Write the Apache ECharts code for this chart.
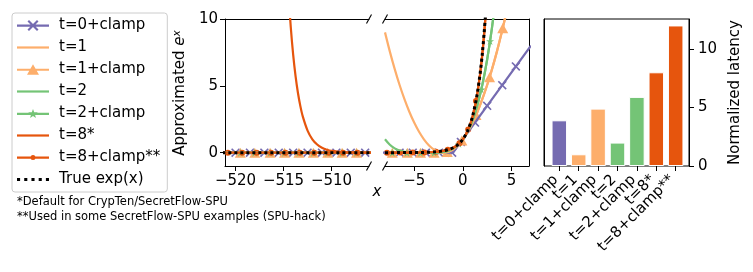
<!DOCTYPE html>
<html><head><meta charset="utf-8">
<script src="https://cdn.jsdelivr.net/npm/echarts@6/dist/echarts.min.js"></script>
<style>html,body{margin:0;padding:0;background:#fff}#c{width:753px;height:272px}</style>
</head><body><div id="c"></div>
<script>
// ---------------- data ----------------
const seriesNames = ['t=0+clamp', 't=1', 't=1+clamp', 't=2', 't=2+clamp', 't=8*', 't=8+clamp**', 'True exp(x)'];
const barCategories = ['t=0+clamp', 't=1', 't=1+clamp', 't=2', 't=2+clamp', 't=8*', 't=8+clamp**'];
const barLatency = [3.9, 1.0, 4.9, 2.0, 5.9, 8.0, 12.0];

const leftTicks = [-520, -515, -510];
const midTicks = [-5, 0, 5];
const yTicks = [0, 5, 10];
const latencyTicks = [0, 5, 10];

// left panel (x around -512)
const leftFlatX = [-522, -505];
const leftFlatY = [0, 0];
const leftT8X = [-515.5, -515, -514.75, -514.5, -514.25, -514, -513.75, -513.5, -513.25, -513, -512.5, -512, -511.5, -511, -510.5, -510, -509, -508, -507, -506, -505];
const leftT8Y = [32.3, 19.6, 15.4, 12.05, 9.4, 7.33, 5.72, 4.46, 3.48, 2.71, 1.65, 1.0, 0.61, 0.37, 0.22, 0.13, 0.049, 0.018, 0.0067, 0.0025, 0.0009];
const leftMarkXT0 = [-520.0, -518.5, -517.0, -515.5, -514.0, -512.5, -511.0, -509.5, -508.0, -506.5];
const leftMarkXT1 = [-519.5, -518.0, -516.4, -514.9, -513.4, -511.9, -510.4, -508.9, -507.4];
const leftMarkXT2 = [-519.5, -518.0, -516.4, -514.9, -513.4, -511.9, -510.4, -508.9, -507.4];
const leftMarkXT8 = [-520.8, -519.3, -517.8, -516.3, -514.8, -513.3, -511.8, -510.3, -508.8, -507.3];

// middle panel (x around 0)
const midX = [-8, -7.5, -7, -6.5, -6, -5.5, -5, -4.5, -4, -3.5, -3, -2.5, -2, -1.5, -1, -0.5, 0, 0.5, 1, 1.5, 2, 2.5, 3, 3.5, 4, 4.5];
const midT1Y = [9, 7.56, 6.25, 5.06, 4, 3.06, 2.25, 1.56, 1, 0.56, 0.25, 0.06, 0, 0.06, 0.25, 0.56, 1, 1.56, 2.25, 3.06, 4, 5.06, 6.25, 7.56, 9, 10.56];
const midT1cY = [0, 0, 0, 0, 0, 0, 0, 0, 0, 0, 0, 0, 0, 0.06, 0.25, 0.56, 1, 1.56, 2.25, 3.06, 4, 5.06, 6.25, 7.56, 9, 10.56];
const midT2Y = [1, 0.586, 0.316, 0.153, 0.0625, 0.0198, 0.0039, 0.0002, 0, 0.0002, 0.0039, 0.0198, 0.0625, 0.153, 0.316, 0.586, 1, 1.6, 2.44, 3.57, 5.06, 6.97, 9.38, 12.36, 16, 20.4];
const midT2cY = [0, 0, 0, 0, 0, 0, 0, 0, 0, 0.0002, 0.0039, 0.0198, 0.0625, 0.153, 0.316, 0.586, 1, 1.6, 2.44, 3.57, 5.06, 6.97, 9.38, 12.36, 16, 20.4];
const midT8Y = [0.0003, 0.0005, 0.0008, 0.0014, 0.0023, 0.004, 0.0065, 0.011, 0.018, 0.03, 0.049, 0.081, 0.134, 0.222, 0.367, 0.606, 1, 1.65, 2.71, 4.46, 7.33, 12.05, 19.7, 32.1, 52, 84];
const midExpY = [0.0003, 0.0006, 0.0009, 0.0015, 0.0025, 0.0041, 0.0067, 0.011, 0.018, 0.03, 0.05, 0.082, 0.135, 0.223, 0.368, 0.607, 1, 1.65, 2.72, 4.48, 7.39, 12.18, 20.1, 33.1, 54.6, 90];
const midT0X = [-9, -1, 7];
const midT0Y = [0, 0, 8];
const midMarkT0X = [-6.5, -5.15, -3.8, -2.45, -1.1, -0.2, 1.25, 2.5, 4.05, 5.45];
const midMarkT0Y = [0, 0, 0, 0, 0, 0.8, 2.25, 3.5, 5.05, 6.45];
const midMarkT1X = [-7.25, -5.7, -4.35, -2.95, -1.6, -0.1, 1.35, 2.75, 4.1];
const midMarkT1Y = [0, 0, 0, 0, 0.04, 0.9, 2.82, 5.64, 9.3];
const midMarkT2X = [-7.25, -5.75, -4.35, -2.95, -1.55, -0.4, 1.9, 2.8];
const midMarkT2Y = [0, 0, 0, 0.005, 0.14, 0.66, 4.73, 8.35];
const midMarkT8X = [-7.8, -6.45, -5.15, -3.95, -2.75, -1.55, -0.35, 0.55, 1.35];
const midMarkT8Y = [0.0004, 0.0016, 0.0058, 0.019, 0.064, 0.212, 0.705, 1.73, 3.86];

// ---------------- style ----------------
const C = { purple: '#756bb1', lorange: '#fdae6b', green: '#74c476', dorange: '#e6550d', black: '#000000' };
const barColors = [C.purple, C.lorange, C.lorange, C.green, C.green, C.dorange, C.dorange];
const FONT = 'DejaVu Sans';
const G = { top: 19, height: 147 };
const gL = { left: 225, width: 144 }, gM = { left: 385, width: 144 }, gB = { left: 544, width: 145 };
// inner band region of the bar panel (matplotlib-style side margins of 0.34 bar slots)
const gBi = { left: 549.6, width: 135.8 };

const symX = 'path://M0,1.3L1.3,0L5,3.7L8.7,0L10,1.3L6.3,5L10,8.7L8.7,10L5,6.3L1.3,10L0,8.7L3.7,5Z';
const symStar = 'path://M50,0L61,35L98,35L68,57L79,91L50,70L21,91L32,57L2,35L39,35Z';

const LINE = 'M0,6L32,6L32,8.2L0,8.2Z';
const iconX = 'path://' + LINE + 'M10.5,3L12,1.5L16,5.5L20,1.5L21.5,3L17.5,7L21.5,11L20,12.5L16,8.5L12,12.5L10.5,11L14.5,7Z';
const iconLine = 'path://' + LINE;
const iconTri = 'path://' + LINE + 'M16,1.5L22,12.2L10,12.2Z';
const iconStar = 'path://' + LINE + 'M16,2.2L17.2,5.4L20.7,5.5L18,7.7L18.9,11.1L16,9.1L13.1,11.1L14,7.7L11.3,5.5L14.8,5.4Z';
const iconDot = 'path://' + LINE + 'M13.5,7A2.5,2.5,0,1,1,18.5,7A2.5,2.5,0,1,1,13.5,7Z';
const iconDots = 'path://M0,5.5L3,5.5L3,8.5L0,8.5ZM7,5.5L10,5.5L10,8.5L7,8.5ZM14,5.5L17,5.5L17,8.5L14,8.5ZM21,5.5L24,5.5L24,8.5L21,8.5ZM28,5.5L31,5.5L31,8.5L28,8.5Z';

const legendIcons = [iconX, iconLine, iconTri, iconLine, iconStar, iconLine, iconDot, iconDots];
const legendColors = [C.purple, C.lorange, C.lorange, C.green, C.green, C.dorange, C.dorange, C.black];

const pairs = (xs, ys) => xs.map((x, i) => [x, ys[i]]);
const minus = v => String(v).replace('-', '\u2212');

function line(name, xs, ys, color, panel, extra) {
  return Object.assign({
    type: 'line', name, xAxisIndex: panel === 0 ? 0 : 2, yAxisIndex: panel === 0 ? 0 : 1,
    data: pairs(xs, ys), symbol: 'none', smooth: 0.3, clip: true, animation: false,
    lineStyle: { color, width: 2.2 }, itemStyle: { color }
  }, extra || {});
}
function marks(name, xs, ys, color, panel, symbol, size) {
  return {
    type: 'scatter', name, xAxisIndex: panel === 0 ? 0 : 2, yAxisIndex: panel === 0 ? 0 : 1,
    data: pairs(xs, ys), symbol, symbolSize: size, clip: true, animation: false,
    itemStyle: { color, borderWidth: 0, opacity: 1 }
  };
}
const zeros = n => new Array(n).fill(0);

const series = [
  // t=0+clamp
  line(seriesNames[0], leftFlatX, leftFlatY, C.purple, 0, { smooth: false }),
  marks(seriesNames[0], leftMarkXT0, zeros(leftMarkXT0.length), C.purple, 0, symX, 9),
  line(seriesNames[0], midT0X, midT0Y, C.purple, 1, { smooth: false }),
  marks(seriesNames[0], midMarkT0X, midMarkT0Y, C.purple, 1, symX, 9),
  // t=1
  line(seriesNames[1], midX, midT1Y, C.lorange, 1),
  // t=1+clamp
  line(seriesNames[2], leftFlatX, leftFlatY, C.lorange, 0, { smooth: false }),
  marks(seriesNames[2], leftMarkXT1, zeros(leftMarkXT1.length), C.lorange, 0, 'triangle', [11, 10]),
  line(seriesNames[2], midX, midT1cY, C.lorange, 1),
  marks(seriesNames[2], midMarkT1X, midMarkT1Y, C.lorange, 1, 'triangle', [11, 10]),
  // t=2
  line(seriesNames[3], midX, midT2Y, C.green, 1),
  // t=2+clamp
  line(seriesNames[4], leftFlatX, leftFlatY, C.green, 0, { smooth: false }),
  marks(seriesNames[4], leftMarkXT2, zeros(leftMarkXT2.length), C.green, 0, symStar, 8),
  line(seriesNames[4], midX, midT2cY, C.green, 1),
  marks(seriesNames[4], midMarkT2X, midMarkT2Y, C.green, 1, symStar, 8),
  // t=8*
  line(seriesNames[5], leftT8X, leftT8Y, C.dorange, 0),
  line(seriesNames[5], midX, midT8Y, C.dorange, 1),
  // t=8+clamp**
  line(seriesNames[6], leftFlatX, leftFlatY, C.dorange, 0, { smooth: false }),
  marks(seriesNames[6], leftMarkXT8, zeros(leftMarkXT8.length), C.dorange, 0, 'circle', 6),
  line(seriesNames[6], midX, midT8Y, C.dorange, 1),
  marks(seriesNames[6], midMarkT8X, midMarkT8Y, C.dorange, 1, 'circle', 6),
  // True exp(x)
  line(seriesNames[7], leftFlatX, leftFlatY, C.black, 0, { smooth: false, lineStyle: { color: C.black, width: 3, type: [3, 3], cap: 'butt' } }),
  line(seriesNames[7], midX, midExpY, C.black, 1, { lineStyle: { color: C.black, width: 3, type: [3, 3], cap: 'butt' } }),
  // latency bars (category band grid)
  {
    type: 'bar', xAxisIndex: 6, yAxisIndex: 5, barWidth: '80%', animation: false,
    data: barLatency.map((v, i) => ({ value: v, itemStyle: { color: barColors[i] } })),
    itemStyle: { borderColor: '#ffffff', borderWidth: 1 }
  }
];

const axLine = { show: true, onZero: false, lineStyle: { color: '#000', width: 1 } };
const tick = vals => ({ show: true, length: 5, inside: false, customValues: vals, lineStyle: { color: '#000', width: 1 } });
const lab = (vals, margin, fmt) => ({ show: true, customValues: vals, margin, fontSize: 15, color: '#000', fontFamily: FONT,
  formatter: fmt || minus, hideOverlap: false, showMinLabel: true, showMaxLabel: true });
const hidden = { show: false };

const xAxis = [
  { gridIndex: 0, type: 'value', min: -521.1, max: -506.1, position: 'bottom', axisLine: axLine, axisTick: tick(leftTicks), axisLabel: lab(leftTicks, 8), splitLine: hidden },
  { gridIndex: 0, type: 'value', min: -521.1, max: -506.1, position: 'top', axisLine: axLine, axisTick: hidden, axisLabel: hidden, splitLine: hidden },
  { gridIndex: 1, type: 'value', min: -8, max: 6.8, position: 'bottom', axisLine: axLine, axisTick: tick(midTicks), axisLabel: lab(midTicks, 8), splitLine: hidden },
  { gridIndex: 1, type: 'value', min: -8, max: 6.8, position: 'top', axisLine: axLine, axisTick: hidden, axisLabel: hidden, splitLine: hidden },
  // bar frame grid (box only)
  { gridIndex: 2, type: 'value', min: 0, max: 1, show: false },
  { gridIndex: 2, type: 'value', min: 0, max: 1, position: 'top', show: false },
  // bar band grid
  { gridIndex: 3, type: 'category', data: barCategories, position: 'bottom',
    axisLine: { show: false, onZero: false }, axisTick: { show: true, alignWithLabel: true, interval: 0, length: 5, lineStyle: { color: '#000' } },
    axisLabel: { show: true, interval: 0, rotate: 45, margin: 8, padding: [0, 5, 0, 0], fontSize: 15, color: '#000', fontFamily: FONT, hideOverlap: false },
    splitLine: hidden }
];
const yAxis = [
  { gridIndex: 0, type: 'value', min: -1, max: 10, position: 'left', axisLine: axLine, axisTick: tick(yTicks), axisLabel: lab(yTicks, 7), splitLine: hidden },
  { gridIndex: 1, type: 'value', min: -1, max: 10, position: 'left', axisLine: hidden, axisTick: hidden, axisLabel: hidden, splitLine: hidden },
  { gridIndex: 1, type: 'value', min: -1, max: 10, position: 'right', axisLine: axLine, axisTick: hidden, axisLabel: hidden, splitLine: hidden },
  { gridIndex: 2, type: 'value', min: 0, max: 12.55, position: 'right', axisLine: axLine,
    axisTick: tick(latencyTicks), axisLabel: lab(latencyTicks, 9, v => String(v)), splitLine: hidden },
  { gridIndex: 2, type: 'value', min: 0, max: 12.55, position: 'left', axisLine: axLine, axisTick: hidden, axisLabel: hidden, splitLine: hidden },
  { gridIndex: 3, type: 'value', min: 0, max: 12.55, show: false }
];

const grids = [gL, gM, gB, gBi].map((g, i) => ({
  left: g.left, width: g.width, top: G.top, height: G.height, containLabel: false,
  show: i === 2, borderColor: '#000', borderWidth: 1, backgroundColor: 'transparent'
}));

// decorations: axis-break marks and free texts
const brk = (x, y) => ({ type: 'line', shape: { x1: x - 2.5, y1: y + 4.5, x2: x + 2.5, y2: y - 4.5 }, style: { stroke: '#000', lineWidth: 1.1 }, z: 100 });
const yBottom = G.top + G.height;
const graphic = [
  brk(gL.left + gL.width, G.top), brk(gL.left + gL.width, yBottom),
  brk(gM.left, G.top), brk(gM.left, yBottom),
  { type: 'text', x: 377, y: 192, style: { text: 'x', font: 'italic 15px "DejaVu Sans"', fill: '#000', align: 'center', verticalAlign: 'middle' } },
  { type: 'text', x: 180.5, y: 93, rotation: Math.PI / 2,
    style: { text: '{a|Approximated }{e|e}{s|x}', align: 'center', verticalAlign: 'middle', fill: '#000',
      rich: { a: { fontSize: 15, fontFamily: FONT, fill: '#000' }, e: { fontSize: 15, fontFamily: FONT, fontStyle: 'italic', fill: '#000' },
              s: { fontSize: 10.5, fontFamily: FONT, fontStyle: 'italic', fill: '#000', verticalAlign: 'top', padding: [0, 0, 7, 0] } } } },
  { type: 'text', x: 735, y: 92.5, rotation: Math.PI / 2,
    style: { text: 'Normalized latency', font: '15px "DejaVu Sans"', fill: '#000', align: 'center', verticalAlign: 'middle' } },
  { type: 'text', x: 17, y: 202, style: { text: '*Default for CrypTen/SecretFlow-SPU', font: '11.5px "DejaVu Sans"', fill: '#000', align: 'left', verticalAlign: 'middle' } },
  { type: 'text', x: 17, y: 217, style: { text: '**Used in some SecretFlow-SPU examples (SPU-hack)', font: '11.5px "DejaVu Sans"', fill: '#000', align: 'left', verticalAlign: 'middle' } }
];

const option = {
  animation: false,
  textStyle: { fontFamily: FONT },
  grid: grids,
  xAxis, yAxis, series, graphic,
  legend: {
    show: true, orient: 'vertical', left: 12, top: 13,
    padding: [5, 7, 5, 5], itemWidth: 32, itemHeight: 14, itemGap: 7,
    borderColor: '#cccccc', borderWidth: 1, borderRadius: 3, backgroundColor: '#fff',
    symbolKeepAspect: true, selectedMode: false,
    textStyle: { fontSize: 15, color: '#000', fontFamily: FONT, padding: [0, 0, 0, 5] },
    data: seriesNames.map((n, i) => ({ name: n, icon: legendIcons[i], itemStyle: { color: legendColors[i], borderWidth: 0, borderColor: legendColors[i] } }))
  }
};

const chart = echarts.init(document.getElementById('c'), null, { renderer: 'canvas' });
chart.setOption(option);
</script>
</body></html>
